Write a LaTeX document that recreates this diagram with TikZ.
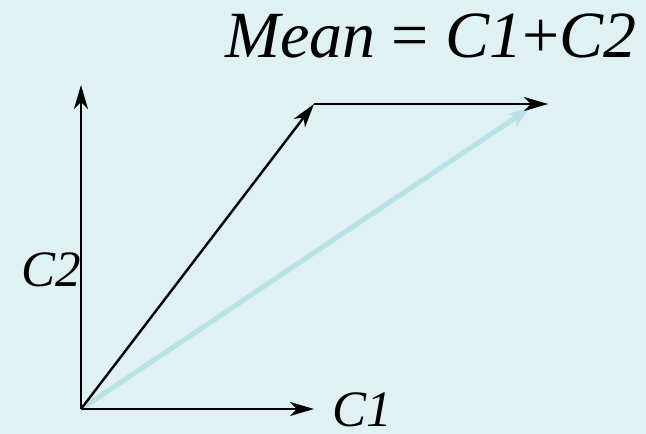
\documentclass[tikz,border=0pt]{standalone}
\usepackage{fontspec}
\setmainfont{Liberation Serif}
\newfontfamily\tms{Liberation Serif}
\usetikzlibrary{arrows.meta}
\definecolor{bg}{HTML}{DFF1F2}
\definecolor{lc}{HTML}{B8E2E4}
\begin{document}
\begin{tikzpicture}[x=1pt,y=-1pt,
  blk/.style={line width=2.4pt,-{Stealth[length=24pt,width=14pt,inset=7pt]}},
  cyanarrow/.style={lc,line width=5pt,-{Stealth[length=22pt,width=15pt,inset=7pt]}},
  lbl/.style={font=\tms\fontsize{51}{51}\selectfont\itshape,inner sep=0pt}]
\fill[bg] (0,0) rectangle (646,434);
\useasboundingbox (0,0) rectangle (646,434);
\coordinate (O) at (81,409);
\coordinate (Y) at (81,85);
\coordinate (X) at (314,409);
\coordinate (A) at (314,104);
\coordinate (B) at (548,104);
\coordinate (M) at (530,108);
\draw[cyanarrow] (O) -- (M);
\draw[blk] (O) -- (Y);
\draw[blk] (O) -- (X);
\draw[blk] (O) -- (A);
\draw[blk] (A) -- (B);
\node[lbl,anchor=base west] (c1) at (332,426) {C1};
\node[lbl,anchor=base west] (c2) at (21,286) {C2};
\node[inner sep=0pt,anchor=base east,font=\tms\fontsize{66}{66}\selectfont] (t) at (637,57) {\textit{Mean} = \textit{C1}+\textit{C2}};
\end{tikzpicture}
\end{document}
